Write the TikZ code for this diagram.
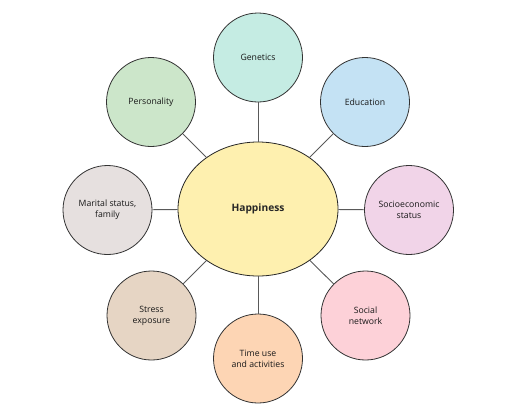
\documentclass[tikz,border=0pt]{standalone}
\usepackage{fontspec}
\setmainfont{Open Sans}
\begin{document}
\begin{tikzpicture}[x=1pt,y=-1pt,
  sat/.style={circle,draw=black!80,line width=0.8pt,minimum size=89pt,inner sep=0pt,align=center,font=\fontsize{8.7}{11}\selectfont,text=black!90},
  hub/.style={ellipse,draw=black!85,line width=0.8pt,minimum width=160pt,minimum height=134pt,inner sep=0pt,fill=cHub,font=\bfseries\fontsize{10.2}{12}\selectfont,text=black!85},
  link/.style={draw=black!65,line width=0.9pt}]
\usetikzlibrary{shapes.geometric}
\definecolor{cHub}{HTML}{FEF0AF}
\definecolor{cGen}{HTML}{C5ECE3}
\definecolor{cEdu}{HTML}{C4E2F4}
\definecolor{cSoc}{HTML}{F1D4E8}
\definecolor{cNet}{HTML}{FDD1D8}
\definecolor{cTim}{HTML}{FDD5B4}
\definecolor{cStr}{HTML}{E6D5C4}
\definecolor{cMar}{HTML}{E6E0DF}
\definecolor{cPer}{HTML}{CCE6CA}
\useasboundingbox (0,0) rectangle (521,413);
\node[hub] (h) at (258,209) {Happiness};
\node[sat,fill=cGen] (gen) at (258,57.5) {Genetics};
\node[sat,fill=cEdu] (edu) at (365,102) {Education};
\node[sat,fill=cSoc] (soc) at (409,210) {Socioeconomic\\status};
\node[sat,fill=cNet] (net) at (365.5,315.5) {Social\\network};
\node[sat,fill=cTim] (tim) at (258,358.5) {Time use\\and activities};
\node[sat,fill=cStr] (str) at (151.5,315.5) {Stress\\exposure};
\node[sat,fill=cMar] (mar) at (107.5,210) {Marital status,\\family};
\node[sat,fill=cPer] (per) at (151,102) {Personality};
\foreach \s in {gen,edu,soc,net,tim,str,mar,per} \draw[link] (h) -- (\s);
\end{tikzpicture}
\end{document}
